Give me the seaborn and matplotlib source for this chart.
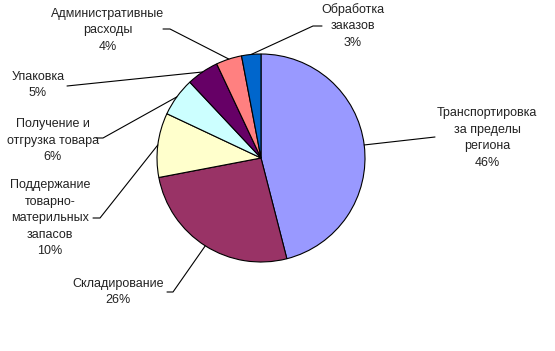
import numpy as np
import matplotlib
matplotlib.use("Agg")
import matplotlib.pyplot as plt
import seaborn as sns

sns.set_style("white")
plt.rcParams['font.family'] = ['Liberation Sans', 'DejaVu Sans']

categories = [
    "Транспортировка\nза пределы\nрегиона",
    "Складирование",
    "Поддержание\nтоварно-\nматерильных\nзапасов",
    "Получение и\nотгрузка товара",
    "Упаковка",
    "Административные\nрасходы",
    "Обработка\nзаказов",
]
values = [46, 26, 10, 6, 5, 4, 3]
colors = ["#9999FF", "#993366", "#FFFFCC", "#CCFFFF", "#660066", "#FF8080", "#0066CC"]

# layout (pixel coordinates, y from top)
W, H = 555, 351
cx, cy, R = 261, 158, 104
label_pos = [(487, 138), (118, 292), (50, 218), (53, 141), (38, 85), (108, 30), (353, 26)]
elbows = [
    [(435, 137)],
    [(173, 292), (167, 292)],
    [(100, 218), (93, 218)],
    [(103, 138), (96, 138)],
    [(67, 86)],
    [(170, 29), (163, 29)],
    [(313, 26), (322, 26)],
]

fig = plt.figure(figsize=(W / 100, H / 100), dpi=100)
ax = fig.add_axes([0, 0, 1, 1])
ax.pie(values, colors=colors, startangle=90, counterclock=False,
       center=(cx, H - cy), radius=R,
       wedgeprops=dict(edgecolor="black", linewidth=0.8))
ax.set_xlim(0, W)
ax.set_ylim(0, H)
ax.axis("off")

total = sum(values)
cum = 0
for i, (cat, v) in enumerate(zip(categories, values)):
    mid = cum + v / 2
    cum += v
    ang = np.deg2rad(90 - mid / total * 360)
    px, py = cx + R * np.cos(ang), (H - cy) + R * np.sin(ang)
    xs = [px] + [e[0] for e in elbows[i]]
    ys = [py] + [H - e[1] for e in elbows[i]]
    ax.plot(xs, ys, color="black", lw=0.8)
    lx, ly = label_pos[i]
    ax.text(lx, H - ly, f"{cat}\n{v}%", ha="center", va="center",
            fontsize=9, linespacing=1.5, color="#222222")

fig.savefig("out.png", dpi=100)
